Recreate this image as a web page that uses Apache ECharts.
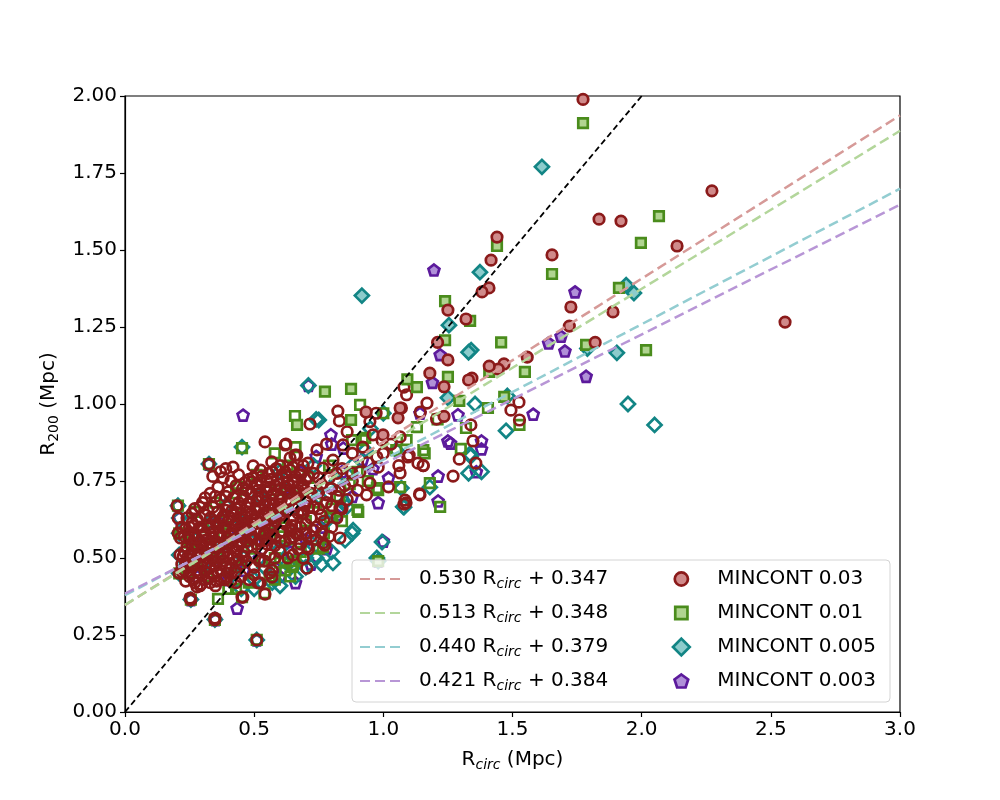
<!DOCTYPE html>
<html>
<head>
<meta charset="utf-8">
<script src="https://cdn.jsdelivr.net/npm/echarts@6/dist/echarts.min.js"></script>
<style>
  html, body { margin: 0; padding: 0; background: #fff; }
  #chart { width: 1000px; height: 800px; }
</style>
</head>
<body>
<div id="chart"></div>
<script>
// fit lines: R200 = a * Rcirc + b
const fitSlopes = [0.530, 0.513, 0.440, 0.421];
const fitIntercepts = [0.347, 0.348, 0.379, 0.384];
const fitColors = ['#d69a98', '#b3d69b', '#93cdd1', '#b896d6'];

const seriesNames = ['MINCONT 0.03', 'MINCONT 0.01', 'MINCONT 0.005', 'MINCONT 0.003'];
const edgeColors = ['#8b1a1a', '#4a8c1c', '#128585', '#5c1a9c'];
const faceColors = ['#d08a8a', '#b0d490', '#8ccccc', '#b090d8'];

// MINCONT 0.03 (circles)
const mc03Fill = [
  [1.773, 1.989], [1.835, 1.600], [1.920, 1.594], [1.440, 1.542], [1.417, 1.467], [1.653, 1.484],
  [1.409, 1.377], [1.382, 1.364], [1.250, 1.305], [1.320, 1.276], [1.726, 1.315], [1.889, 1.299],
  [1.720, 1.253], [1.210, 1.200], [2.272, 1.692], [2.137, 1.513], [2.555, 1.266], [1.820, 1.200],
  [1.557, 1.152], [1.467, 1.130], [1.445, 1.113], [1.410, 1.123], [1.343, 1.084], [1.330, 1.078],
  [1.180, 1.100], [1.235, 1.056], [1.250, 1.143], [0.933, 0.974], [0.999, 0.900], [1.057, 0.955],
  [1.065, 0.987], [1.235, 0.960]
];
const mc03Open = [
  [0.201, 0.669], [0.206, 0.630], [0.206, 0.581], [0.213, 0.510], [0.209, 0.451], [0.255, 0.364],
  [0.348, 0.299], [0.510, 0.234], [0.542, 0.383], [0.456, 0.373], [0.325, 0.805], [0.418, 0.795],
  [0.496, 0.799], [0.490, 0.747], [0.568, 0.812], [0.639, 0.825], [0.665, 0.834], [0.743, 0.851],
  [0.708, 0.808], [0.766, 0.792], [0.844, 0.867], [0.805, 0.818], [0.832, 0.662], [0.879, 0.776],
  [0.704, 0.536], [0.766, 0.549], [0.832, 0.565], [0.650, 0.568], [0.561, 0.451], [0.523, 0.419],
  [0.542, 0.877], [0.623, 0.870], [0.824, 0.977], [0.830, 0.945], [0.716, 0.935], [0.972, 0.970],
  [0.948, 0.943], [1.142, 0.705], [1.088, 0.679], [1.020, 0.731], [1.154, 0.800], [1.060, 0.800],
  [1.065, 0.776], [1.095, 0.828], [0.948, 0.743], [0.935, 0.705], [0.774, 0.542], [0.980, 0.795],
  [0.975, 0.828], [0.995, 0.883], [1.065, 0.893], [1.525, 1.006], [1.494, 0.980], [1.527, 0.948],
  [1.339, 0.932], [1.347, 0.880], [1.294, 0.821], [1.358, 0.808], [1.270, 0.766], [1.169, 1.003],
  [1.143, 0.974], [1.080, 1.055], [1.090, 1.030], [1.206, 0.951], [1.155, 0.800], [1.140, 0.708],
  [1.080, 0.675], [1.070, 0.987], [1.100, 0.834], [0.620, 0.867], [0.658, 0.834], [1.134, 0.808],
  [1.084, 0.688], [0.704, 0.467], [0.569, 0.438], [0.515, 0.419], [0.453, 0.373], [0.348, 0.305],
  [0.252, 0.370], [0.279, 0.406],
  [0.27, 0.42], [0.31, 0.43], [0.35, 0.41], [0.39, 0.44], [0.43, 0.42], [0.48, 0.43], [0.23, 0.46],
  [0.29, 0.45], [0.36, 0.455], [0.57, 0.46],
  [0.22, 0.48], [0.26, 0.47], [0.30, 0.49], [0.33, 0.47], [0.37, 0.48], [0.41, 0.465], [0.45, 0.48],
  [0.50, 0.47], [0.54, 0.49], [0.24, 0.50], [0.28, 0.51],
  [0.31, 0.52], [0.34, 0.50], [0.38, 0.515], [0.42, 0.50], [0.46, 0.52], [0.49, 0.505], [0.53, 0.53],
  [0.56, 0.51], [0.60, 0.52], [0.63, 0.50], [0.67, 0.53], [0.26, 0.54], [0.29, 0.55], [0.33, 0.545],
  [0.36, 0.535], [0.40, 0.55], [0.44, 0.54], [0.47, 0.555], [0.51, 0.545], [0.55, 0.56], [0.58, 0.54],
  [0.62, 0.555], [0.72, 0.57], [0.69, 0.50],
  [0.23, 0.57], [0.27, 0.58], [0.30, 0.57], [0.34, 0.585], [0.37, 0.57], [0.41, 0.58], [0.45, 0.575],
  [0.48, 0.59], [0.52, 0.58], [0.56, 0.595], [0.60, 0.585], [0.64, 0.59], [0.68, 0.60], [0.25, 0.60],
  [0.32, 0.605], [0.39, 0.60], [0.43, 0.61], [0.50, 0.61], [0.58, 0.62], [0.74, 0.60],
  [0.24, 0.63], [0.28, 0.625], [0.31, 0.64], [0.35, 0.62], [0.38, 0.635], [0.42, 0.64], [0.46, 0.625],
  [0.49, 0.645], [0.53, 0.63], [0.55, 0.65], [0.61, 0.64], [0.65, 0.625], [0.69, 0.645], [0.72, 0.63],
  [0.77, 0.62], [0.80, 0.60],
  [0.27, 0.66], [0.30, 0.68], [0.34, 0.665], [0.37, 0.69], [0.40, 0.67], [0.44, 0.68], [0.47, 0.665],
  [0.51, 0.685], [0.54, 0.67], [0.57, 0.69], [0.60, 0.675], [0.63, 0.69], [0.66, 0.67], [0.70, 0.685],
  [0.73, 0.665], [0.78, 0.68], [0.82, 0.70], [0.86, 0.69],
  [0.33, 0.71], [0.36, 0.73], [0.40, 0.715], [0.43, 0.735], [0.47, 0.72], [0.51, 0.74], [0.55, 0.715],
  [0.58, 0.735], [0.62, 0.72], [0.65, 0.745], [0.69, 0.73], [0.72, 0.71], [0.76, 0.74], [0.80, 0.725],
  [0.85, 0.735], [0.90, 0.72],
  [0.38, 0.76], [0.44, 0.77], [0.53, 0.765], [0.57, 0.78], [0.61, 0.76], [0.64, 0.785], [0.68, 0.77],
  [0.73, 0.775], [0.84, 0.79], [0.91, 0.78], [0.94, 0.81], [0.39, 0.79], [0.88, 0.84], [0.92, 0.86],
  [1.00, 0.84], [1.03, 0.87], [0.96, 0.90], [0.86, 0.91], [0.78, 0.87],
  [0.25, 0.44], [0.29, 0.41], [0.33, 0.42], [0.37, 0.43], [0.41, 0.425], [0.45, 0.44], [0.50, 0.445],
  [0.23, 0.52], [0.27, 0.49], [0.32, 0.50], [0.35, 0.49], [0.39, 0.47], [0.43, 0.49], [0.47, 0.49],
  [0.52, 0.49], [0.58, 0.50], [0.65, 0.51], [0.68, 0.545], [0.71, 0.53], [0.74, 0.56],
  [0.25, 0.56], [0.28, 0.535], [0.32, 0.56], [0.35, 0.555], [0.39, 0.535], [0.42, 0.56], [0.45, 0.555],
  [0.49, 0.565], [0.53, 0.555], [0.57, 0.575], [0.60, 0.555], [0.64, 0.565], [0.66, 0.58], [0.70, 0.58],
  [0.76, 0.58], [0.79, 0.57],
  [0.22, 0.60], [0.26, 0.615], [0.29, 0.60], [0.33, 0.63], [0.36, 0.60], [0.40, 0.62], [0.44, 0.595],
  [0.47, 0.61], [0.51, 0.625], [0.54, 0.605], [0.57, 0.63], [0.62, 0.61], [0.66, 0.605], [0.70, 0.61],
  [0.73, 0.59], [0.76, 0.64], [0.82, 0.63],
  [0.26, 0.645], [0.29, 0.665], [0.32, 0.655], [0.36, 0.65], [0.39, 0.655], [0.43, 0.66], [0.45, 0.645],
  [0.48, 0.68], [0.52, 0.66], [0.56, 0.675], [0.59, 0.655], [0.63, 0.655], [0.67, 0.645], [0.71, 0.665],
  [0.75, 0.66], [0.80, 0.67], [0.84, 0.66],
  [0.31, 0.695], [0.35, 0.70], [0.39, 0.70], [0.42, 0.695], [0.46, 0.70], [0.49, 0.71], [0.53, 0.70],
  [0.56, 0.73], [0.60, 0.70], [0.64, 0.71], [0.67, 0.72], [0.71, 0.70], [0.75, 0.715], [0.78, 0.705],
  [0.83, 0.72], [0.88, 0.75],
  [0.41, 0.75], [0.48, 0.755], [0.55, 0.75], [0.59, 0.755], [0.63, 0.745], [0.66, 0.765], [0.70, 0.755],
  [0.75, 0.76], [0.79, 0.76], [0.82, 0.775], [0.34, 0.765], [0.37, 0.78], [0.60, 0.80], [0.69, 0.80],
  // densest part of the cloud
  [0.235, 0.425], [0.265, 0.43], [0.295, 0.415], [0.325, 0.435], [0.355, 0.425], [0.385, 0.43],
  [0.22, 0.455], [0.25, 0.45], [0.28, 0.46], [0.31, 0.455], [0.34, 0.445], [0.37, 0.46], [0.40, 0.45],
  [0.43, 0.455], [0.235, 0.485], [0.265, 0.48], [0.295, 0.475], [0.32, 0.485], [0.35, 0.475],
  [0.38, 0.49], [0.41, 0.48], [0.44, 0.495], [0.225, 0.505], [0.255, 0.515], [0.285, 0.505],
  [0.31, 0.51], [0.345, 0.52], [0.37, 0.505], [0.40, 0.515], [0.43, 0.52], [0.46, 0.505],
  [0.24, 0.535], [0.27, 0.545], [0.30, 0.535], [0.325, 0.53], [0.355, 0.545], [0.385, 0.55],
  [0.415, 0.535], [0.445, 0.55], [0.475, 0.535], [0.215, 0.565], [0.245, 0.575], [0.275, 0.565],
  [0.31, 0.58], [0.335, 0.565], [0.365, 0.58], [0.395, 0.565], [0.425, 0.575], [0.46, 0.565],
  [0.49, 0.575], [0.235, 0.595], [0.265, 0.605], [0.30, 0.59], [0.33, 0.60], [0.355, 0.61],
  [0.385, 0.595], [0.42, 0.605], [0.45, 0.60], [0.48, 0.605], [0.51, 0.595],
  [0.375, 0.625], [0.405, 0.63], [0.435, 0.62], [0.465, 0.635], [0.495, 0.625], [0.525, 0.615],
  [0.555, 0.625], [0.585, 0.635], [0.615, 0.62], [0.645, 0.605], [0.415, 0.655], [0.445, 0.665],
  [0.475, 0.65], [0.505, 0.66], [0.535, 0.645], [0.565, 0.66], [0.595, 0.665], [0.625, 0.65],
  [0.655, 0.66], [0.685, 0.655], [0.455, 0.69], [0.485, 0.68], [0.515, 0.695], [0.545, 0.685],
  [0.575, 0.675], [0.605, 0.69], [0.635, 0.68], [0.665, 0.695], [0.695, 0.67], [0.715, 0.695],
  [0.455, 0.725], [0.485, 0.71], [0.515, 0.72], [0.545, 0.73], [0.575, 0.71], [0.605, 0.725],
  [0.635, 0.735], [0.665, 0.71], [0.695, 0.72], [0.465, 0.745], [0.495, 0.76], [0.525, 0.745],
  [0.565, 0.755], [0.595, 0.74], [0.625, 0.765], [0.655, 0.75], [0.685, 0.74], [0.71, 0.765],
  [0.525, 0.785], [0.555, 0.775], [0.585, 0.79], [0.62, 0.78], [0.65, 0.795], [0.68, 0.785],
  [0.52, 0.555], [0.55, 0.545], [0.58, 0.565], [0.54, 0.585], [0.57, 0.60], [0.61, 0.585],
  [0.64, 0.595], [0.67, 0.575]
];

// MINCONT 0.01 (squares)
const mc01Fill = [
  [1.773, 1.912], [1.440, 1.513], [1.653, 1.422], [1.997, 1.523], [2.067, 1.610], [1.912, 1.377],
  [2.017, 1.175], [1.239, 1.334], [1.336, 1.270], [1.456, 1.200], [1.785, 1.192], [1.548, 1.104],
  [1.410, 1.104], [1.468, 1.023], [1.294, 1.010], [1.093, 1.080], [1.130, 1.055], [1.239, 1.207],
  [1.250, 1.088], [0.774, 1.040], [0.875, 1.049], [0.875, 0.948], [0.666, 0.932], [0.980, 0.490]
];
const mc01Open = [
  [0.22, 0.58], [0.25, 0.55], [0.28, 0.49], [0.30, 0.60], [0.33, 0.54], [0.36, 0.50], [0.38, 0.62],
  [0.41, 0.56], [0.44, 0.47], [0.46, 0.60], [0.49, 0.53], [0.52, 0.66], [0.55, 0.58], [0.58, 0.50],
  [0.61, 0.63], [0.64, 0.56], [0.67, 0.70], [0.70, 0.62], [0.74, 0.68], [0.77, 0.58], [0.80, 0.66],
  [0.84, 0.62], [0.87, 0.74], [0.32, 0.44], [0.40, 0.40], [0.48, 0.42], [0.56, 0.44], [0.35, 0.68],
  [0.43, 0.71], [0.51, 0.77], [0.59, 0.72], [0.63, 0.80], [0.71, 0.76], [0.79, 0.80], [0.27, 0.65],
  [0.24, 0.45], [0.38, 0.58], [0.53, 0.49], [0.60, 0.57], [0.68, 0.52], [0.75, 0.53], [0.57, 0.64],
  [0.45, 0.64], [0.83, 0.70], [0.90, 0.78], [0.94, 0.75], [0.66, 0.86], [0.58, 0.84],
  [0.453, 0.857], [0.437, 0.731], [0.658, 0.961], [0.910, 0.997], [0.879, 0.883], [0.930, 0.890],
  [0.980, 0.720], [1.065, 0.730], [0.900, 0.656], [0.646, 0.471], [0.453, 0.373], [0.360, 0.367],
  [0.794, 0.633], [0.766, 0.536], [0.650, 0.477], [0.920, 0.883], [1.155, 0.850], [1.180, 0.743],
  [1.220, 0.666], [0.903, 0.650], [0.975, 0.727], [1.405, 0.987], [1.527, 0.932], [1.320, 0.922],
  [1.300, 0.854], [1.130, 0.925], [1.090, 0.883], [1.160, 0.840], [0.205, 0.670], [0.210, 0.580],
  [0.510, 0.234], [0.348, 0.299], [0.325, 0.805], [0.255, 0.365], [0.210, 0.450], [0.580, 0.430],
  [0.540, 0.385], [0.430, 0.400], [1.050, 0.850], [1.000, 0.970], [1.210, 0.950],
  [0.62, 0.46], [0.66, 0.49], [0.60, 0.485], [0.64, 0.44]
];

// MINCONT 0.005 (diamonds)
const mc005Fill = [
  [1.614, 1.770], [1.374, 1.428], [1.254, 1.256], [1.970, 1.360], [1.904, 1.166], [1.940, 1.386],
  [1.340, 1.175], [1.330, 1.168], [1.790, 1.180], [1.250, 1.020], [0.917, 1.352]
];
const mc005Open = [
  [1.947, 1.000], [2.050, 0.932], [1.355, 1.000], [1.475, 0.913], [1.335, 0.838], [1.330, 0.775],
  [1.380, 0.780], [1.480, 1.026], [1.080, 0.665], [1.338, 0.830], [0.710, 1.060], [0.750, 0.948],
  [0.995, 0.552], [0.975, 0.500], [0.879, 0.580], [1.070, 0.727], [1.180, 0.730], [1.077, 0.666],
  [0.805, 0.484], [0.852, 0.558], [0.883, 0.590], [0.859, 0.666], [0.980, 0.490], [0.205, 0.670],
  [0.210, 0.630], [0.210, 0.580], [0.325, 0.805], [0.510, 0.234], [0.348, 0.300], [0.255, 0.365],
  [0.453, 0.860], [0.210, 0.510], [0.210, 0.450], [1.000, 0.970], [0.950, 0.920], [1.050, 0.850],
  [0.740, 0.950],
  [0.30, 0.47], [0.36, 0.52], [0.42, 0.45], [0.48, 0.56], [0.54, 0.47], [0.60, 0.53], [0.66, 0.58],
  [0.72, 0.55], [0.78, 0.62], [0.63, 0.48], [0.70, 0.50], [0.57, 0.42], [0.45, 0.62], [0.39, 0.67],
  [0.52, 0.70], [0.63, 0.72], [0.75, 0.70], [0.82, 0.75], [0.88, 0.80], [0.27, 0.56], [0.33, 0.62],
  [0.24, 0.48], [0.50, 0.43], [0.68, 0.65], [0.60, 0.78], [0.73, 0.80], [0.85, 0.68], [0.93, 0.85],
  [0.55, 0.60], [0.40, 0.55], [0.46, 0.50], [0.76, 0.48], [0.70, 0.47], [0.74, 0.50], [0.80, 0.52],
  [0.66, 0.44], [0.60, 0.41], [0.50, 0.40], [0.45, 0.40]
];

// MINCONT 0.003 (pentagons)
const mc003Fill = [
  [1.196, 1.435], [1.742, 1.364], [1.688, 1.220], [1.785, 1.090], [1.703, 1.172], [1.640, 1.198],
  [1.190, 1.070], [1.220, 1.160]
];
const mc003Open = [
  [1.580, 0.967], [1.289, 0.965], [1.380, 0.880], [1.380, 0.854], [1.360, 0.780], [1.260, 0.873],
  [1.250, 0.880], [1.212, 0.766], [1.212, 0.685], [1.142, 0.970], [0.797, 0.900], [0.800, 0.870],
  [0.845, 0.857], [0.980, 0.680], [0.457, 0.964], [0.710, 1.060], [0.434, 0.337], [0.350, 0.300],
  [0.510, 0.234], [0.205, 0.670], [0.210, 0.630], [0.210, 0.580], [0.325, 0.805], [0.255, 0.365],
  [0.980, 0.490], [1.000, 0.555],
  [0.28, 0.44], [0.34, 0.48], [0.40, 0.43], [0.46, 0.46], [0.52, 0.50], [0.58, 0.47], [0.64, 0.52],
  [0.70, 0.56], [0.76, 0.60], [0.82, 0.64], [0.88, 0.70], [0.44, 0.58], [0.50, 0.63], [0.56, 0.68],
  [0.62, 0.73], [0.68, 0.78], [0.74, 0.83], [0.36, 0.62], [0.30, 0.55], [0.25, 0.51], [0.72, 0.48],
  [0.78, 0.53], [0.66, 0.42], [0.84, 0.78], [0.92, 0.82], [0.96, 0.79], [1.02, 0.76], [0.60, 0.44],
  [0.54, 0.56]
];

const pentagon = 'path://M0,-10 L9.51,-3.09 L5.88,8.09 L-5.88,8.09 L-9.51,-3.09 Z';
const symbols = ['circle', 'rect', 'diamond', pentagon];
const symbolSizes = [10.5, 9.5, 14, 11];
const openData = [mc03Open, mc01Open, mc005Open, mc003Open];
const fillData = [mc03Fill, mc01Fill, mc005Fill, mc003Fill];

const FONT = 'DejaVu Sans';
const FS = 20;
const EDGE = 2.7;

function fitName(i) {
  return fitSlopes[i].toFixed(3) + ' R_circ + ' + fitIntercepts[i].toFixed(3);
}

let series = [];

// hollow markers first: purple, teal, green, red (red ends up on top)
for (let i = 3; i >= 0; i--) {
  series.push({
    name: seriesNames[i] + ' open',
    type: 'scatter',
    data: openData[i],
    symbol: symbols[i],
    symbolSize: symbolSizes[i],
    itemStyle: { color: 'rgba(255,255,255,0)', borderColor: edgeColors[i], borderWidth: EDGE, opacity: 1 },
    emphasis: { disabled: true },
    z: 2
  });
}
for (let i = 3; i >= 0; i--) {
  series.push({
    name: seriesNames[i],
    type: 'scatter',
    data: fillData[i],
    symbol: symbols[i],
    symbolSize: symbolSizes[i],
    itemStyle: { color: faceColors[i], borderColor: edgeColors[i], borderWidth: EDGE, opacity: 1 },
    emphasis: { disabled: true },
    z: 3
  });
}

// one-to-one line
series.push({
  name: 'one to one',
  type: 'line',
  data: [[0, 0], [2, 2]],
  symbol: 'none',
  lineStyle: { color: '#000', width: 1.8, type: [6, 3.5] },
  z: 4
});

for (let i = 0; i < fitSlopes.length; i++) {
  series.push({
    name: fitName(i),
    type: 'line',
    data: [[0, fitIntercepts[i]], [3, fitSlopes[i] * 3 + fitIntercepts[i]]],
    symbol: 'none',
    lineStyle: { color: fitColors[i], width: 2.5, type: [10, 5] },
    itemStyle: { color: fitColors[i] },
    z: 4
  });
}

const richSub = {
  n: { fontFamily: FONT, fontSize: FS, color: '#000' },
  s: { fontFamily: FONT, fontSize: 14, fontStyle: 'italic', color: '#000', verticalAlign: 'bottom', padding: [10, 0, 0, 0] },
  d: { fontFamily: FONT, fontSize: 14, color: '#000', verticalAlign: 'bottom', padding: [10, 0, 0, 0] }
};

// legends: one per row, so every marker keeps its own icon size
const legendRows = [578, 612, 646, 680];
let legends = [];
for (let i = 0; i < 4; i++) {
  legends.push({
    orient: 'vertical',
    left: 359,
    top: legendRows[i] - 9,
    padding: 0,
    z: 20,
    itemWidth: 40,
    itemHeight: 14,
    data: [{ name: fitName(i), itemStyle: { opacity: 0 } }],
    formatter: function(name) {
      return name.replace('R_circ', '{n|R}{s|circ}');
    },
    textStyle: { fontFamily: FONT, fontSize: FS, color: '#000', padding: [0, 0, 0, 14], rich: richSub }
  });
}
for (let i = 0; i < 4; i++) {
  let w = symbolSizes[i] + EDGE;
  legends.push({
    orient: 'vertical',
    left: 680 - w / 2,
    top: legendRows[i] - 9,
    padding: 0,
    z: 20,
    itemWidth: w,
    itemHeight: w,
    data: [{
      name: seriesNames[i],
      icon: symbols[i],
      itemStyle: { color: faceColors[i], borderColor: edgeColors[i], borderWidth: EDGE }
    }],
    textStyle: { fontFamily: FONT, fontSize: FS, color: '#000', padding: [0, 0, 0, 31 - w / 2] }
  });
}

let option = {
  backgroundColor: '#fff',
  animation: false,
  grid: {
    left: 125, right: 100, top: 96, bottom: 88,
    show: true, borderColor: '#000', borderWidth: 1.2, backgroundColor: 'transparent'
  },
  xAxis: {
    type: 'value',
    min: 0, max: 3, interval: 0.5,
    name: '{n|R}{s|circ}{n| (Mpc)}',
    nameLocation: 'middle',
    nameGap: 36,
    nameTextStyle: { rich: richSub },
    axisLine: { show: true, lineStyle: { color: '#000', width: 1.2 } },
    axisTick: { show: true, inside: false, length: 5, lineStyle: { color: '#000', width: 1.2 } },
    axisLabel: { fontFamily: FONT, fontSize: FS, color: '#000', margin: 8,
      formatter: v => v.toFixed(1) },
    splitLine: { show: false }
  },
  yAxis: {
    type: 'value',
    min: 0, max: 2, interval: 0.25,
    name: '{n|R}{d|200}{n| (Mpc)}',
    nameLocation: 'middle',
    nameRotate: 90,
    nameGap: 64,
    nameTextStyle: { rich: richSub },
    axisLine: { show: true, lineStyle: { color: '#000', width: 1.2 } },
    axisTick: { show: true, inside: false, length: 5, lineStyle: { color: '#000', width: 1.2 } },
    axisLabel: { fontFamily: FONT, fontSize: FS, color: '#000', margin: 8,
      formatter: v => v.toFixed(2) },
    splitLine: { show: false }
  },
  legend: legends,
  graphic: [{
    type: 'rect',
    z: 10,
    shape: { x: 352, y: 560, width: 538, height: 142, r: 4 },
    style: { fill: 'rgba(255,255,255,0.8)', stroke: '#d4d4d4', lineWidth: 1 },
    silent: true
  }],
  series: series
};

let chart = echarts.init(document.getElementById('chart'), null, { renderer: 'canvas' });
chart.setOption(option);
</script>
</body>
</html>
